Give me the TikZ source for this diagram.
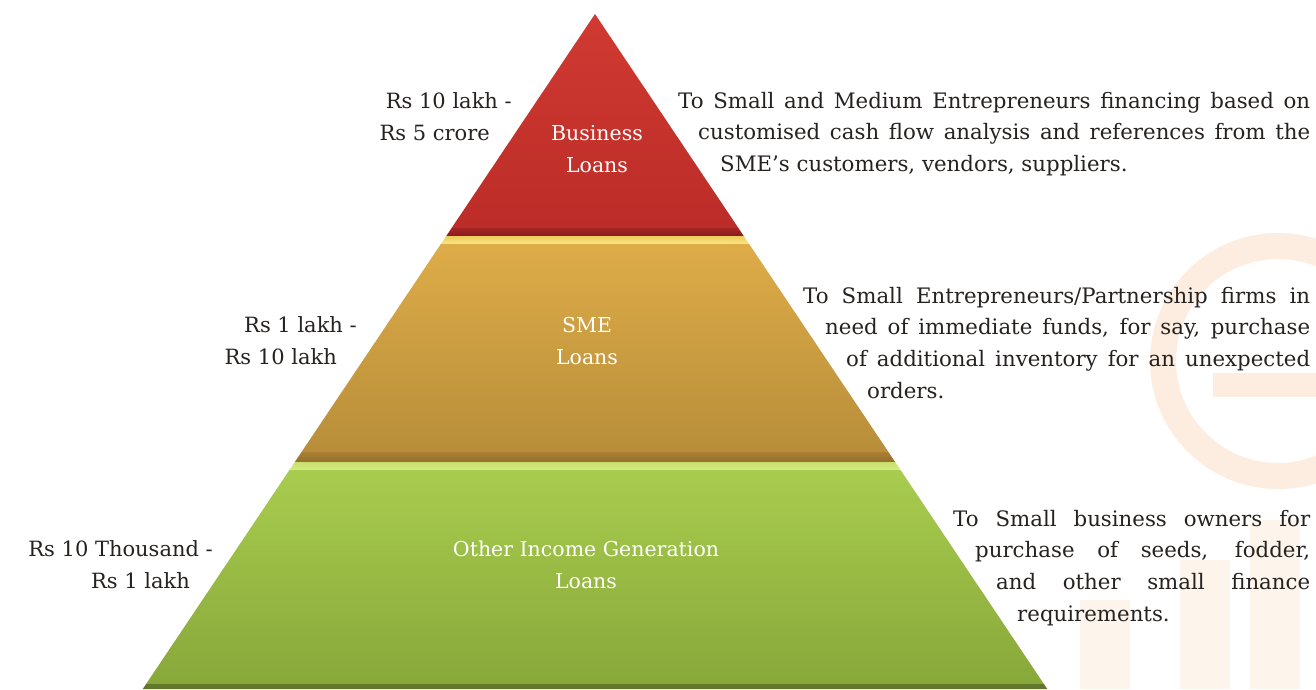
\documentclass[tikz,border=0pt]{standalone}
\usepackage{fontspec}
\setmainfont{DejaVu Serif}
\usetikzlibrary{calc}
\definecolor{txt}{RGB}{38,34,32}
\definecolor{wm}{RGB}{246,200,160}
\definecolor{redT}{RGB}{208,58,50}
\definecolor{redB}{RGB}{188,44,40}
\definecolor{redS1}{RGB}{166,38,36}
\definecolor{redS2}{RGB}{138,28,30}
\definecolor{ylwT}{RGB}{238,204,92}
\definecolor{ylwB}{RGB}{250,230,135}
\definecolor{gldT}{RGB}{222,172,72}
\definecolor{gldB}{RGB}{184,142,58}
\definecolor{gldS1}{RGB}{170,128,52}
\definecolor{gldS2}{RGB}{148,110,44}
\definecolor{lgnT}{RGB}{198,224,108}
\definecolor{lgnB}{RGB}{214,236,132}
\definecolor{grnT}{RGB}{168,204,78}
\definecolor{grnB}{RGB}{136,168,58}
\definecolor{grnS}{RGB}{98,118,44}
\tikzset{
  bodytext/.style={inner sep=0pt,text=txt,font=\fontsize{21.3}{31.7}\selectfont},
  rangetext/.style={inner sep=0pt,text=txt,anchor=base east,font=\fontsize{21}{32}\selectfont},
  tiertext/.style={inner sep=0pt,text=white,anchor=base,font=\fontsize{20.5}{32}\selectfont},
  watermark/.style={wm,opacity=0.32}
}
\newcommand\jl[2]{\makebox[#1pt][s]{#2}}
\begin{document}
\begin{tikzpicture}[x=1pt,y=-1pt]
\useasboundingbox (0,0) rectangle (1316,689);
\fill[white] (0,0) rectangle (1316,689);
% faint background watermark
\draw[watermark,line width=26pt] (1278,361) circle (115);
\fill[watermark] (1213,373) rectangle (1316,397);
\fill[watermark,opacity=0.2] (1080,600) rectangle (1130,689);
\fill[watermark,opacity=0.2] (1180,560) rectangle (1230,689);
\fill[watermark,opacity=0.2] (1250,520) rectangle (1300,689);
% pyramid coordinates
\coordinate (A) at (595,14);
\foreach \y/\n in {228/a,236/b,244/c,452/d,462/e,470/f,684/g,689/h}{
  \coordinate (L\n) at ({595-0.67*(\y-14)},\y);
  \coordinate (R\n) at ({595+0.67*(\y-14)},\y);
}
% red tier
\shade[top color=redT,bottom color=redB] (A) -- (Ra) -- (La) -- cycle;
\shade[top color=redS1,bottom color=redS2] (La) -- (Ra) -- (Rb) -- (Lb) -- cycle;
% yellow band
\shade[top color=ylwT,bottom color=ylwB] (Lb) -- (Rb) -- (Rc) -- (Lc) -- cycle;
% gold tier
\shade[top color=gldT,bottom color=gldB] (Lc) -- (Rc) -- (Rd) -- (Ld) -- cycle;
\shade[top color=gldS1,bottom color=gldS2] (Ld) -- (Rd) -- (Re) -- (Le) -- cycle;
% light green band
\shade[top color=lgnT,bottom color=lgnB] (Le) -- (Re) -- (Rf) -- (Lf) -- cycle;
% green tier
\shade[top color=grnT,bottom color=grnB] (Lf) -- (Rf) -- (Rg) -- (Lg) -- cycle;
\fill[grnS] (Lg) -- (Rg) -- (Rh) -- (Lh) -- cycle;
% tier labels
\node[tiertext] (t1) at (597,140) {\begin{tabular}[t]{@{}c@{}}Business\\Loans\end{tabular}};
\node[tiertext] (t2) at (587,332) {\begin{tabular}[t]{@{}c@{}}SME\\Loans\end{tabular}};
\node[tiertext] (t3) at (586,556) {\begin{tabular}[t]{@{}c@{}}Other Income Generation\\Loans\end{tabular}};
% amount ranges
\node[rangetext] (r1) at (512,108) {\begin{tabular}[t]{@{}r@{}}Rs 10 lakh -\\Rs 5 crore\hspace*{22pt}\end{tabular}};
\node[rangetext] (r2) at (357,332) {\begin{tabular}[t]{@{}r@{}}Rs 1 lakh -\\Rs 10 lakh\hspace*{20pt}\end{tabular}};
\node[rangetext] (r3) at (213,556) {\begin{tabular}[t]{@{}r@{}}Rs 10 Thousand -\\Rs 1 lakh\hspace*{23pt}\end{tabular}};
% descriptions
\node[bodytext,anchor=base west] (d1) at (678,108) {\begin{tabular}[t]{@{}l@{}}%
\jl{632}{To Small and Medium Entrepreneurs financing based on}\\
\hspace*{20pt}\jl{612}{customised cash flow analysis and references from the}\\
\hspace*{42pt}SME’s customers, vendors, suppliers.\end{tabular}};
\node[bodytext,anchor=base west] (d2) at (803,303) {\begin{tabular}[t]{@{}l@{}}%
\jl{507}{To Small Entrepreneurs/Partnership firms in}\\
\hspace*{22pt}\jl{485}{need of immediate funds, for say, purchase}\\
\hspace*{43pt}\jl{464}{of additional inventory for an unexpected}\\
\hspace*{64pt}orders.\end{tabular}};
\node[bodytext,anchor=base west] (d3) at (953,526) {\begin{tabular}[t]{@{}l@{}}%
\jl{357}{To Small business owners for}\\
\hspace*{22pt}\jl{335}{purchase of seeds, fodder,}\\
\hspace*{43pt}\jl{314}{and other small finance}\\
\hspace*{64pt}requirements.\end{tabular}};
\end{tikzpicture}
\end{document}
